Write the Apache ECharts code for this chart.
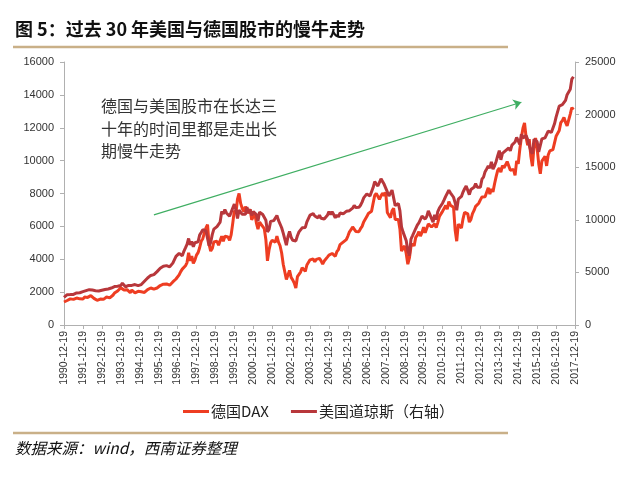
<!DOCTYPE html>
<html>
<head>
<meta charset="utf-8">
<script src="https://cdn.jsdelivr.net/npm/echarts@6/dist/echarts.min.js"></script>
<style>
html,body{margin:0;padding:0;background:#fff;}
#chart{width:640px;height:478px;}
</style>
</head>
<body>
<div id="chart"></div>
<script>
// Monthly categories, 1990-12 .. 2017-12 (label shown once a year)
const startYear = 1990, startMonth = 12, endYear = 2017, endMonth = 12;
const categories = [];
for (let y = startYear, m = startMonth; y < endYear || (y === endYear && m <= endMonth); ) {
  categories.push(y + '-' + String(m).padStart(2, '0') + '-19');
  m++; if (m > 12) { m = 1; y++; }
}

const seriesNames = ['德国DAX', '美国道琼斯（右轴）'];

// 德国DAX (left axis), monthly, 1990-12 .. 2017-11
const daxValues = [
  1398,
  1320,1490,1600,1590,1660,1560,1630,1640,1620,1590,1520,1578,
  1700,1720,1680,1740,1790,1700,1620,1500,1500,1550,1580,1545,
  1560,1680,1700,1630,1650,1720,1810,1940,1920,2070,2050,2267,
  2200,2130,2050,2150,2080,1970,2120,2140,1960,2030,2050,2107,
  2020,2010,1980,2050,2150,2130,2250,2200,2180,2180,2250,2254,
  2400,2430,2480,2470,2500,2550,2420,2520,2620,2680,2800,2889,
  3050,3250,3400,3450,3600,3800,4400,3900,4200,3750,3950,4250,
  4400,4700,5100,5250,5600,5900,6100,4900,4500,4650,5050,5000,
  5100,4850,4900,5400,5100,5400,5300,5350,5150,5500,6200,6958,
  6800,7650,8000,7400,7100,6900,7200,7200,6800,7050,6400,6434,
  6800,6200,5830,6260,6120,6060,5860,5190,3900,4560,5000,5160,
  5100,5040,5400,5040,4820,4380,3700,3710,2770,2700,3320,2893,
  2750,2550,2250,2940,2980,3220,3490,3480,3260,3650,3750,3965,
  4060,4020,3850,3990,3920,4050,3900,3700,3890,3960,4130,4256,
  4250,4350,4350,4180,4460,4590,4890,4830,5040,4930,5190,5408,
  5670,5800,5970,6010,5690,5680,5680,5860,6000,6270,6310,6597,
  6790,6720,6920,7410,7880,8010,8100,7640,7860,8020,7870,8067,
  6850,6750,6530,6950,7100,6420,6480,6420,5830,4500,4670,4810,
  4340,3700,4080,4770,4940,4810,5330,5460,5680,5410,5630,5957,
  5610,5600,6150,6140,5960,5970,6150,5930,6230,6600,6690,6914,
  7080,7270,7040,7510,7290,7380,7160,5780,5100,6140,6090,5898,
  6460,6860,6950,6760,6260,6420,6770,6970,7220,7260,7410,7612,
  7780,7740,7800,7910,8350,7960,8280,8100,8590,9030,9410,9552,
  9300,9690,9560,9600,9940,9830,9410,9470,9470,9100,9980,9806,
  10690,11400,11970,12300,11410,10940,11310,10260,9660,10850,11380,10743,
  9800,9200,9970,10040,10260,9680,10340,10590,10510,10670,10640,11481,
  11540,11830,12310,12440,12620,12330,12120,12060,12830,13230,13100
];

// 美国道琼斯 (right axis), monthly, 1990-12 .. 2017-11
const dowValues = [
  2634,
  2736,2882,2914,2888,3028,2907,3025,3044,3017,3069,2895,3169,
  3224,3267,3236,3359,3397,3319,3394,3257,3272,3226,3305,3301,
  3310,3370,3435,3428,3527,3516,3540,3651,3555,3681,3684,3754,
  3978,3832,3636,3682,3758,3625,3765,3913,3843,3908,3739,3834,
  3844,4011,4158,4321,4465,4556,4709,4650,4789,4756,5075,5117,
  5395,5486,5587,5569,5643,5655,5529,5616,5882,6029,6522,6448,
  6813,6878,6584,7009,7331,7673,8223,7622,7945,7442,7823,7908,
  7907,8546,8800,9063,8900,8952,8883,7539,7843,8592,9117,9181,
  9359,9307,9786,10789,10560,10971,10655,10829,10337,10730,10878,11497,
  10941,10128,10922,10734,10522,10448,10522,11215,10651,10971,10415,10787,
  10887,10495,9879,10735,10912,10502,10523,9950,8848,9075,9852,10022,
  9920,10106,10404,9946,9925,9243,8737,8664,7592,8397,8896,8342,
  8054,7891,7992,8480,8850,8985,9234,9416,9275,9801,9782,10454,
  10488,10584,10358,10226,10188,10435,10140,10174,10080,10027,10428,10783,
  10490,10766,10504,10193,10467,10275,10641,10482,10569,10440,10806,10718,
  10865,10993,11109,11367,11168,11150,11186,11381,11679,12081,12222,12463,
  12622,12269,12354,13063,13628,13409,13212,13358,13896,13930,13372,13265,
  12650,12266,12263,12820,12638,11350,11378,11544,10851,9325,8829,8776,
  8001,7063,6600,8168,8500,8447,9172,9496,9712,9713,10345,10428,
  10067,10325,10857,11009,10137,9774,10466,10015,10788,11118,11006,11578,
  11892,12226,12320,12811,12570,12414,12143,11614,10913,11955,12046,12218,
  12633,12952,13212,13214,12393,12880,13009,13091,13437,13096,13026,13104,
  13861,14054,14579,14840,15116,14910,15500,14810,15130,15546,16086,16577,
  15699,16322,16458,16581,16717,16827,16563,17098,17043,17391,17828,17823,
  17165,18133,17776,17841,18011,17620,17690,16528,16285,17664,17720,17425,
  16466,16517,17685,17774,17787,17930,18432,18401,18308,18142,19124,19763,
  19864,20812,20663,20941,21009,21350,21891,21948,22405,23377,23600
];

// Trend arrow endpoints (category, left-axis value)
const arrowStart = ['1995-09-19', 6700];
const arrowEnd = ['2015-02-19', 13550];

const titleText = '图 5：过去 30 年美国与德国股市的慢牛走势';
const noteText = '德国与美国股市在长达三\n十年的时间里都是走出长\n期慢牛走势';
const sourceText = '数据来源：wind，西南证券整理';

const daxColor = '#ee3d22';
const dowColor = '#b8373b';
const axisGray = '#b0b0b0';
const cjk = '"Noto Sans CJK SC", "Noto Sans", sans-serif';
const latin = 'Arial, "Liberation Sans", sans-serif';

const chart = echarts.init(document.getElementById('chart'), null, {renderer: 'canvas'});
chart.setOption({
  animation: false,
  backgroundColor: '#ffffff',
  textStyle: {fontFamily: cjk},
  grid: {left: 64, right: 65, top: 62, bottom: 153},
  legend: {
    data: seriesNames,
    left: 178, top: 399,
    itemWidth: 26, itemHeight: 3, itemGap: 22,
    icon: 'rect',
    textStyle: {fontSize: 15, color: '#222', fontFamily: cjk, padding: [0, 0, 0, -3]}
  },
  xAxis: {
    type: 'category',
    data: categories,
    boundaryGap: false,
    axisLine: {lineStyle: {color: axisGray}},
    axisTick: {interval: 11, length: 4, lineStyle: {color: axisGray}},
    axisLabel: {interval: 11, rotate: 90, fontSize: 10.5, color: '#333', margin: 6, fontFamily: latin},
    splitLine: {show: false}
  },
  yAxis: [
    {
      type: 'value', min: 0, max: 16000, interval: 2000, position: 'left',
      axisLine: {show: true, lineStyle: {color: axisGray}},
      axisTick: {show: true, length: 4, lineStyle: {color: axisGray}},
      axisLabel: {fontSize: 11, color: '#333', margin: 10, fontFamily: latin, formatter: v => String(v)},
      splitLine: {show: false}
    },
    {
      type: 'value', min: 0, max: 25000, interval: 5000, position: 'right',
      axisLine: {show: true, lineStyle: {color: axisGray}},
      axisTick: {show: true, length: 4, lineStyle: {color: axisGray}},
      axisLabel: {fontSize: 11, color: '#333', margin: 10, fontFamily: latin, formatter: v => String(v)},
      splitLine: {show: false}
    }
  ],
  series: [
    {
      name: seriesNames[0], type: 'line', yAxisIndex: 0, data: daxValues,
      showSymbol: false, symbol: 'none',
      lineStyle: {color: daxColor, width: 3},
      itemStyle: {color: daxColor},
      z: 2,
      markLine: {
        silent: true, animation: false,
        symbol: ['none', 'arrow'], symbolSize: 8,
        lineStyle: {color: '#3fae62', width: 1.2, type: 'solid'},
        itemStyle: {color: '#3fae62'},
        label: {show: false},
        data: [[{coord: arrowStart}, {coord: arrowEnd}]]
      }
    },
    {
      name: seriesNames[1], type: 'line', yAxisIndex: 1, data: dowValues,
      showSymbol: false, symbol: 'none',
      lineStyle: {color: dowColor, width: 3},
      itemStyle: {color: dowColor},
      z: 3
    }
  ],
  graphic: [
    {type: 'text', left: 15, top: 20, style: {text: titleText, font: 'bold 18px ' + cjk, fill: '#111'}},
    {type: 'line', shape: {x1: 13, y1: 47, x2: 508, y2: 47}, style: {stroke: '#c9b088', lineWidth: 2.5}},
    {type: 'text', left: 101, top: 95, style: {text: noteText, font: '16px ' + cjk, fill: '#333', lineHeight: 22.5}},
    {type: 'line', shape: {x1: 13, y1: 433, x2: 508, y2: 433}, style: {stroke: '#c9b088', lineWidth: 2.5}},
    {type: 'text', left: 15, top: 440, style: {text: sourceText, font: 'italic 15.5px ' + cjk, fill: '#111'}}
  ]
});
</script>
</body>
</html>
